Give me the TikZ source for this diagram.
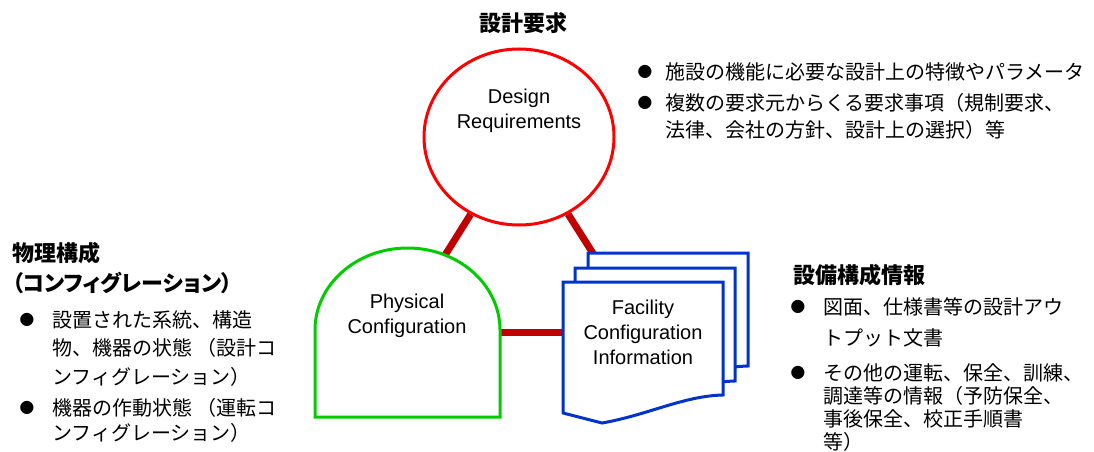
\documentclass[tikz,border=0pt]{standalone}
\usepackage{fontspec}
\setmainfont{Liberation Sans}
\newfontfamily\jp{Noto Sans CJK JP}
\newfontfamily\jph{Noto Sans CJK JP}[RawFeature=+palt]
\usepackage{tikz}
\usetikzlibrary{shapes.geometric, backgrounds}

\newcommand{\bul}{{\jp\fontsize{11}{11}\selectfont ●}}
\newcommand{\docpage}[1]{%
  \draw[docline, shift={(#1)}] (-80,-50) -- (80,-50) -- (80,63)
      .. controls (40,64) and (5,83) .. (-41,91) -- (-80,81) -- cycle;}

\begin{document}
\begin{tikzpicture}[
    x=0.75pt, y=-0.75pt,
    reqcircle/.style={
        ellipse,
        draw=reqred,
        line width=2.25pt,
        fill=white,
        minimum width=142.5pt,
        minimum height=132pt
    },
    eng/.style={align=center, font=\fontsize{15}{18.75}\selectfont},
    head/.style={align=left, inner sep=0pt, anchor=west,
        font=\jph\bfseries\fontsize{16.5}{22.5}\selectfont},
    jtxt/.style={align=left, inner sep=0pt, anchor=west,
        font=\jp\fontsize{15}{#1}\selectfont},
    jtxt/.default=20,
    bullet/.style={inner sep=0pt},
    link/.style={draw=linkred, line width=5.25pt},
    physline/.style={draw=physgreen, line width=2.25pt, fill=white},
    docline/.style={draw=docblue, line width=2.25pt, fill=white}
]

% Colors
\definecolor{reqred}{RGB}{255,0,0}
\definecolor{physgreen}{RGB}{0,204,0}
\definecolor{docblue}{RGB}{0,51,204}
\definecolor{linkred}{RGB}{192,0,0}

\useasboundingbox (0,0) rectangle (1094,452);

% Design requirements
\node[head, anchor=center] (drh) at (523,23) {設計要求};
\node[reqcircle] (dr) at (519,137) {};
\node[eng] (drl) at (519,110.5) {Design\\Requirements};

\node[bullet] (b1) at (645,72) {\bul};
\node[jtxt] (t1) at (665,72) {施設の機能に必要な設計上の特徴やパラメータ};
\node[bullet] (b2) at (645,103) {\bul};
\node[jtxt=20.25] (t2) at (665,116.5) {複数の要求元からくる要求事項（規制要求、\\法律、会社の方針、設計上の選択）等};

% Physical configuration
\node[eng] (pc) at (407,316) {Physical\\Configuration};

\node[head] (pch) at (12,268) {物理構成\\（コンフィグレーション）};
\node[bullet] (b3) at (27,320) {\bul};
\node[jtxt=21.4] (t3) at (52,348.5) {設置された系統、構造\\物、機器の状態 （設計コ\\ンフィグレーション）};
\node[bullet] (b4) at (27,408) {\bul};
\node[jtxt=18.75] (t4) at (52,420.5) {機器の作動状態 （運転コ\\ンフィグレーション）};

% Facility configuration information
\node[eng] (fci) at (643,332) {Facility\\Configuration\\Information};

\node[head] (fcih) at (793,275) {設備構成情報};
\node[bullet] (b5) at (798,307) {\bul};
\node[jtxt=23.25] (t5) at (823,322.5) {図面、仕様書等の設計アウ\\トプット文書};
\node[bullet] (b6) at (798,373) {\bul};
\node[jtxt=17.25] (t6) at (823,408) {その他の運転、保全、訓練、\\調達等の情報（予防保全、\\事後保全、校正手順書\\等）};

% Links and shapes
\begin{pgfonlayer}{background}
\draw[link] (dr) -- (pc);
\draw[link] (dr) -- (fci);
\draw[link] (pc.center |- fci.center) -- (fci);

\draw[physline] (315,417) -- (315,330)
    arc[start angle=180, end angle=360, x radius=92.5, y radius=82]
    -- (500,417) -- cycle;

\begin{scope}[shift={(fci.center)}]
\docpage{25,-29}
\docpage{12,-14}
\docpage{0,0}
\end{scope}
\end{pgfonlayer}

\end{tikzpicture}
\end{document}
